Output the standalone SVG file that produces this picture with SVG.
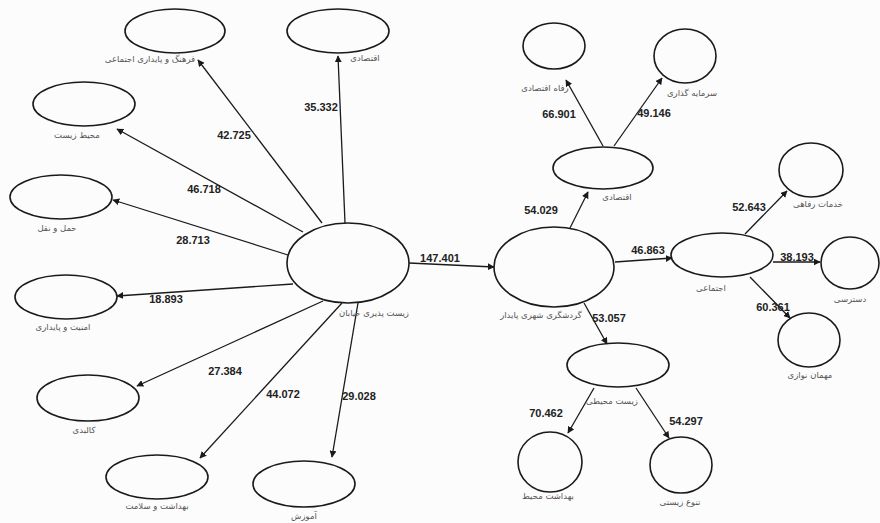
<svg xmlns="http://www.w3.org/2000/svg" width="880" height="523" viewBox="0 0 880 523">
<style>
.n ellipse{fill:none;stroke:#1a1a1a;stroke-width:1.6}
.lbl{font-family:"DejaVu Sans","Noto Sans",sans-serif;font-size:8.5px;fill:#555;text-anchor:middle}
.val{font-family:"Liberation Sans",Arial,sans-serif;font-size:11px;font-weight:bold;fill:#222;text-anchor:middle}
.c line{stroke:#1a1a1a;stroke-width:1.3;marker-end:url(#ah)}
</style>
<defs>
<marker id="ah" viewBox="0 0 10 10" refX="9" refY="5" markerWidth="7" markerHeight="7" markerUnits="userSpaceOnUse" orient="auto">
<path d="M0,0 L10,5 L0,10 z" fill="#1a1a1a"/>
</marker>
</defs>
<rect width="880" height="523" fill="#fcfcfc"/>

<g class="c" id="connectors">
<line x1="322" y1="223" x2="198" y2="60"/>
<line x1="345" y1="223" x2="338" y2="56"/>
<line x1="303" y1="232" x2="117" y2="129"/>
<line x1="288" y1="255" x2="113" y2="200"/>
<line x1="293" y1="284" x2="117" y2="296"/>
<line x1="323" y1="301" x2="137" y2="386"/>
<line x1="342" y1="303" x2="200" y2="458"/>
<line x1="358" y1="303" x2="332" y2="457"/>
<line x1="409" y1="263" x2="494" y2="267"/>
<line x1="570" y1="228" x2="588" y2="192"/>
<line x1="603" y1="146" x2="566" y2="80"/>
<line x1="614" y1="146" x2="662" y2="78"/>
<line x1="615" y1="262" x2="672" y2="258"/>
<line x1="745" y1="234" x2="787" y2="191"/>
<line x1="773" y1="262" x2="820" y2="262"/>
<line x1="750" y1="277" x2="790" y2="318"/>
<line x1="584" y1="303" x2="607" y2="344"/>
<line x1="594" y1="388" x2="568" y2="433"/>
<line x1="636" y1="388" x2="669" y2="438"/>
</g>

<g id="values">
<text class="val" x="234" y="139">42.725</text>
<text class="val" x="321" y="111">35.332</text>
<text class="val" x="204" y="193">46.718</text>
<text class="val" x="193" y="244">28.713</text>
<text class="val" x="166" y="303">18.893</text>
<text class="val" x="225" y="375">27.384</text>
<text class="val" x="283" y="398">44.072</text>
<text class="val" x="359" y="400">29.028</text>
<text class="val" x="440" y="262">147.401</text>
<text class="val" x="541" y="214">54.029</text>
<text class="val" x="559" y="118">66.901</text>
<text class="val" x="654" y="117">49.146</text>
<text class="val" x="648" y="254">46.863</text>
<text class="val" x="749" y="211">52.643</text>
<text class="val" x="797" y="261">38.193</text>
<text class="val" x="773" y="311">60.361</text>
<text class="val" x="609" y="322">53.057</text>
<text class="val" x="546" y="417">70.462</text>
<text class="val" x="686" y="425">54.297</text>
</g>

<g class="n" id="n-farhang"><ellipse cx="175" cy="31" rx="50" ry="22"/><text class="lbl" x="150" y="62">فرهنگ و پایداری اجتماعی</text></g>
<g class="n" id="n-eqtesadi-l"><ellipse cx="338" cy="31" rx="51" ry="22"/><text class="lbl" x="365" y="61">اقتصادی</text></g>
<g class="n" id="n-mohit"><ellipse cx="84" cy="104" rx="51" ry="22"/><text class="lbl" x="77" y="138">محیط زیست</text></g>
<g class="n" id="n-haml"><ellipse cx="61" cy="197" rx="51" ry="22"/><text class="lbl" x="57" y="231">حمل و نقل</text></g>
<g class="n" id="n-amniat"><ellipse cx="66" cy="297" rx="51" ry="22"/><text class="lbl" x="63" y="330">امنیت و پایداری</text></g>
<g class="n" id="n-kalbadi"><ellipse cx="88" cy="398" rx="51" ry="23"/><text class="lbl" x="84" y="433">کالبدی</text></g>
<g class="n" id="n-behdasht"><ellipse cx="157" cy="477" rx="51" ry="22"/><text class="lbl" x="157" y="509">بهداشت و سلامت</text></g>
<g class="n" id="n-amoozesh"><ellipse cx="304" cy="484" rx="51" ry="23"/><text class="lbl" x="304" y="519">آموزش</text></g>
<g class="n" id="n-zistpaziri"><ellipse cx="348" cy="263" rx="61" ry="40"/><text class="lbl" x="374" y="316">زیست پذیری خیابان</text></g>
<g class="n" id="n-gardeshgari"><ellipse cx="554" cy="267" rx="60" ry="40"/><text class="lbl" x="541" y="318">گردشگری شهری پایدار</text></g>
<g class="n" id="n-eqtesadi-r"><ellipse cx="603" cy="168" rx="50" ry="21"/><text class="lbl" x="617" y="200">اقتصادی</text></g>
<g class="n" id="n-refah"><ellipse cx="554" cy="46" rx="31" ry="23"/><text class="lbl" x="545" y="91">رفاه اقتصادی</text></g>
<g class="n" id="n-sarmaye"><ellipse cx="685" cy="56" rx="31" ry="27"/><text class="lbl" x="692" y="96">سرمایه گذاری</text></g>
<g class="n" id="n-ejtemai"><ellipse cx="722" cy="255" rx="51" ry="22"/><text class="lbl" x="711" y="291">اجتماعی</text></g>
<g class="n" id="n-khadamat"><ellipse cx="811" cy="170" rx="32" ry="27"/><text class="lbl" x="818" y="207">خدمات رفاهی</text></g>
<g class="n" id="n-dastresi"><ellipse cx="850" cy="263" rx="29" ry="26"/><text class="lbl" x="850" y="302">دسترسی</text></g>
<g class="n" id="n-mehman"><ellipse cx="809" cy="340" rx="31" ry="27"/><text class="lbl" x="810" y="378">مهمان نوازی</text></g>
<g class="n" id="n-zistmohiti"><ellipse cx="618" cy="365" rx="51" ry="22"/><text class="lbl" x="612" y="404">زیست محیطی</text></g>
<g class="n" id="n-behdasht-mohit"><ellipse cx="550" cy="462" rx="32" ry="30"/><text class="lbl" x="548" y="499">بهداشت محیط</text></g>
<g class="n" id="n-tanavo"><ellipse cx="681" cy="465" rx="31" ry="28"/><text class="lbl" x="680" y="505">تنوع زیستی</text></g>
</svg>
